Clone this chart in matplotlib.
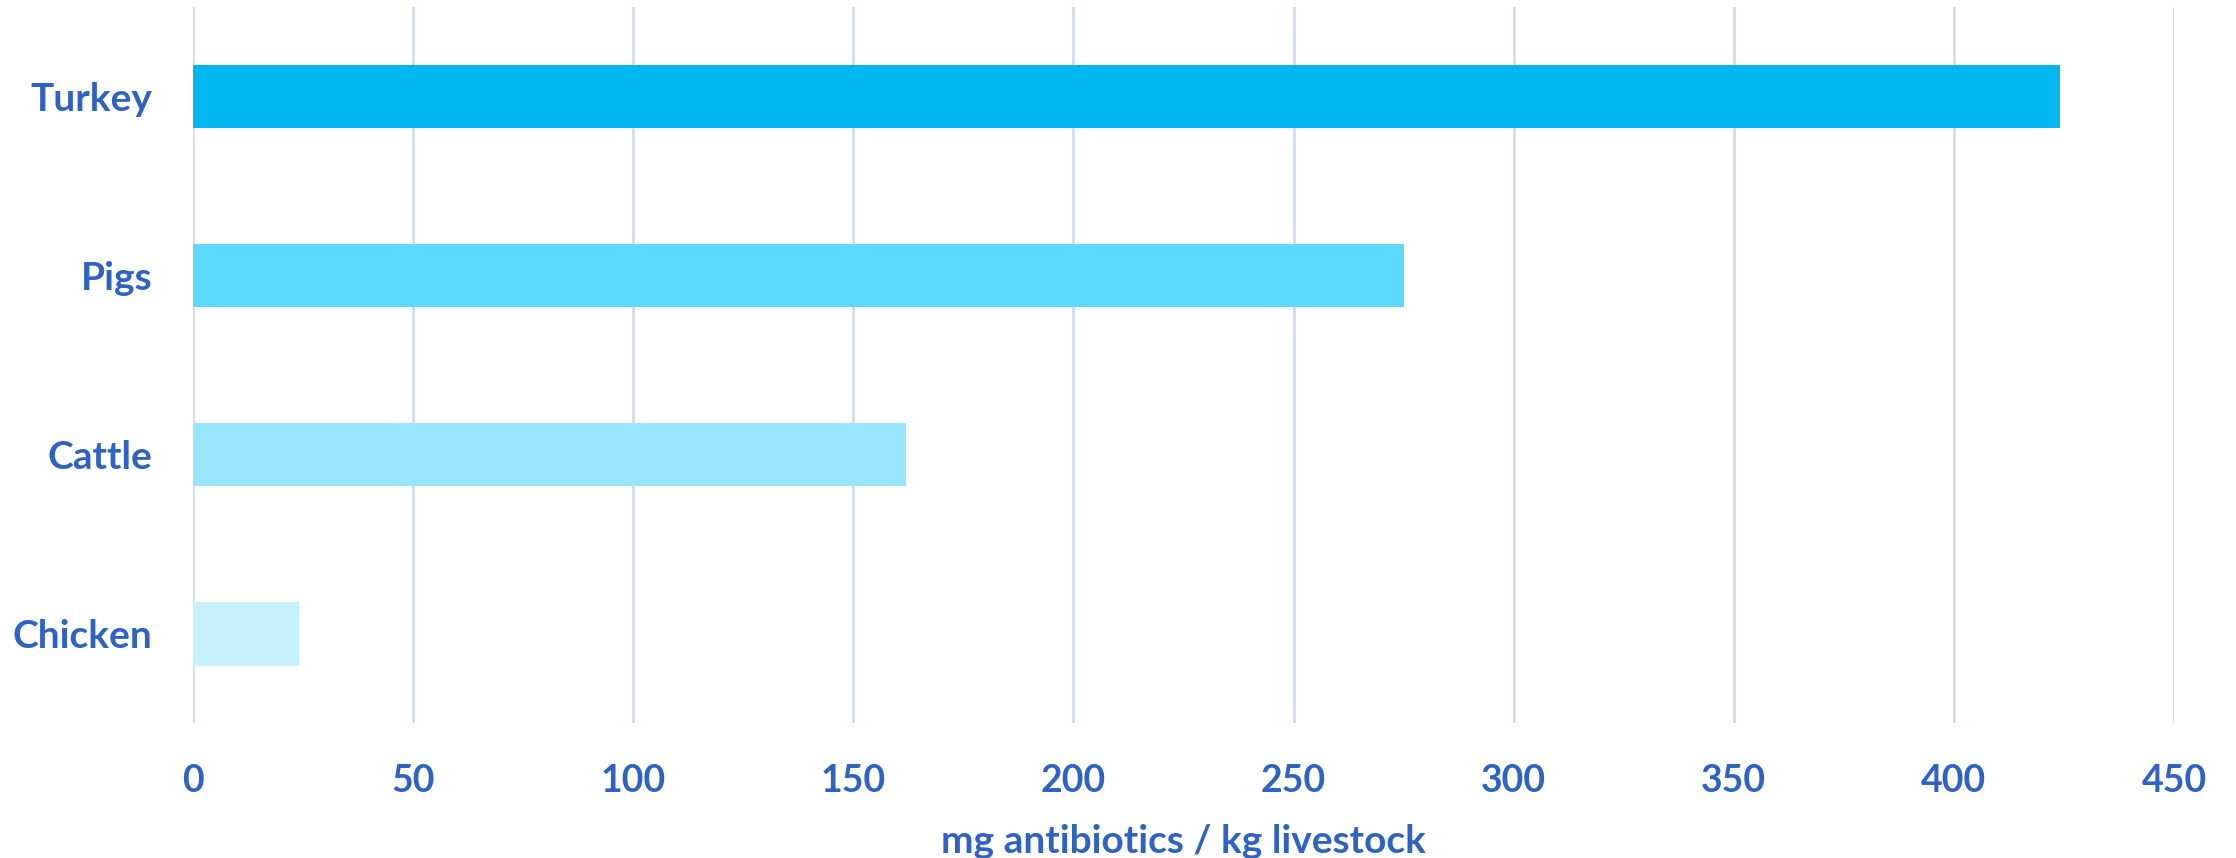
import matplotlib.pyplot as plt
import numpy as np

# data
animals = ["Turkey", "Pigs", "Cattle", "Chicken"]
mg_per_kg = [424, 275, 162, 24]
bar_colors = ["#00B7EF", "#5DD8FF", "#97E5FF", "#C8F1FF"]
x_ticks = [0, 50, 100, 150, 200, 250, 300, 350, 400, 450]

text_color = "#2E62C3"
grid_color = "#D0DCF2"

plt.rcParams["font.family"] = ["Lato", "DejaVu Sans"]
plt.rcParams["font.weight"] = "bold"

fig = plt.figure(figsize=(22.36, 8.58), dpi=100)
ax = fig.add_axes([0.0863, 0.157, 0.886, 0.835])

y = np.arange(len(animals))
ax.barh(y, mg_per_kg, height=0.355, color=bar_colors, zorder=3)
ax.set_ylim(len(animals) - 0.5, -0.5)
ax.set_xlim(0, 450)

ax.set_xticks(x_ticks)
ax.set_yticks(y)
ax.set_yticklabels(animals)
ax.grid(axis="x", color=grid_color, linewidth=2, zorder=0)
ax.grid(axis="y", visible=False)
for s in ax.spines.values():
    s.set_visible(False)

ax.tick_params(axis="x", length=0, pad=29, labelsize=27, labelcolor=text_color)
ax.tick_params(axis="y", length=0, pad=29, labelsize=28, labelcolor=text_color)
ax.set_xlabel("mg antibiotics / kg livestock", fontsize=28, color=text_color,
              fontweight="bold", labelpad=19)

fig.savefig("out.png", dpi=100, facecolor="white")
